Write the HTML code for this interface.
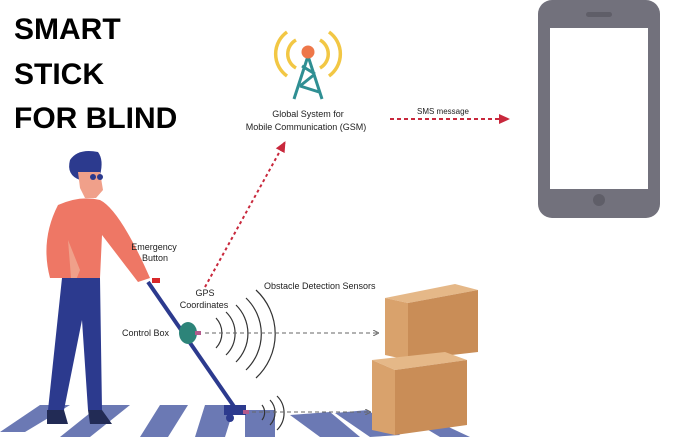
<!DOCTYPE html>
<html><head><style>
body{margin:0;width:685px;height:440px;overflow:hidden;background:#fff;font-family:"Liberation Sans",sans-serif}
.t{position:absolute;left:14px;font-weight:bold;font-size:30px;color:#000}
</style></head><body>
<div class="t" style="top:13px">SMART</div>
<div class="t" style="top:58px">STICK</div>
<div class="t" style="top:102px">FOR BLIND</div>
<svg width="685" height="440" style="position:absolute;left:0;top:0" font-family="Liberation Sans, sans-serif">
<defs><marker id="a" markerUnits="userSpaceOnUse" markerWidth="12" markerHeight="12" refX="10" refY="6" orient="auto"><path d="M0,1 L11,6 L0,11 z" fill="#c8283c"/></marker>
<marker id="g" markerUnits="userSpaceOnUse" markerWidth="6" markerHeight="6" refX="5" refY="3" orient="auto"><path d="M0,0 L6,3 L0,6" fill="none" stroke="#666"/></marker></defs>
<g fill="#6b79b4">
<polygon points="0,432 40,405 70,405 25,432"/><polygon points="60,437 100,405 130,405 90,437"/>
<polygon points="140,437 160,405 188,405 168,437"/><polygon points="195,437 205,405 235,405 225,437"/>
<polygon points="245,437 245,410 275,410 275,437"/><polygon points="290,415 330,412 360,437 320,437"/>
<polygon points="335,413 368,410 400,435 370,437"/><polygon points="420,425 440,423 470,437 440,437"/>
</g>
<rect x="538" y="0" width="122" height="218" rx="14" fill="#72717c"/>
<rect x="550" y="28" width="98" height="161" fill="#fff"/>
<rect x="586" y="12" width="26" height="5" rx="2.5" fill="#5f5e68"/>
<circle cx="599" cy="200" r="6" fill="#5f5e68"/>
<g fill="none" stroke="#f2c744" stroke-width="3.5">
<path d="M296,40 A16,16 0 0 0 296,68"/><path d="M287,32 A27,27 0 0 0 287,76"/>
<path d="M320,40 A16,16 0 0 1 320,68"/><path d="M329,32 A27,27 0 0 1 329,76"/></g>
<g stroke="#2f8f93" stroke-width="3" fill="none"><path d="M308,56 L294,99 M308,56 L322,99 M302,66 L315,74 M315,74 L300,86 M300,86 L319,92"/></g>
<circle cx="308" cy="52" r="6.5" fill="#ee7749"/>
<text x="308" y="117" font-size="9" text-anchor="middle" fill="#222">Global System for</text>
<text x="306" y="130" font-size="9" text-anchor="middle" fill="#222">Mobile Communication (GSM)</text>
<text x="443" y="114" font-size="8" text-anchor="middle" fill="#222">SMS message</text>
<line x1="390" y1="119" x2="509" y2="119" stroke="#c8283c" stroke-width="2" stroke-dasharray="4,3" marker-end="url(#a)"/>
<line x1="205" y1="287" x2="285" y2="142" stroke="#c8283c" stroke-width="2" stroke-dasharray="3,3" marker-end="url(#a)"/>
<path d="M70,160 Q78,148 98,152 Q104,160 100,175 L80,180 Q66,175 70,160z" fill="#2c3a8e"/>
<path d="M78,172 L100,172 L103,190 L96,198 L85,198 L80,188z" fill="#f0a08a"/>
<circle cx="93" cy="177" r="3" fill="#2c3a8e"/><circle cx="100" cy="177" r="3" fill="#2c3a8e"/>
<path d="M58,205 Q80,195 100,200 Q120,210 150,278 L138,282 L102,235 L100,278 L50,278 Q40,240 58,205z" fill="#ee7765"/>
<path d="M68,240 L80,270 L72,290 Z" fill="#f0a08a"/>
<path d="M62,278 L100,278 L102,410 L88,410 L82,320 L64,410 L48,410 Z" fill="#2c3a8e"/>
<path d="M47,410 L64,410 L68,424 L47,424Z M88,410 L102,410 L112,424 L90,424Z" fill="#222b55"/>
<line x1="148" y1="282" x2="235" y2="408" stroke="#2c3a8e" stroke-width="4"/>
<rect x="152" y="278" width="8" height="5" fill="#d8282a"/>
<rect x="224" y="405" width="22" height="10" fill="#2c3a8e"/>
<circle cx="230" cy="418" r="4" fill="#2c3a8e"/>
<ellipse cx="188" cy="333" rx="9" ry="11" fill="#2d8479"/>
<rect x="195" y="331" width="6" height="4" fill="#b35a8c"/><rect x="243" y="410" width="6" height="4" fill="#b35a8c"/>
<g fill="none" stroke="#333" stroke-width="1.2">
<path d="M216,318 A22,22 0 0 1 216,348"/><path d="M226,312 A30,30 0 0 1 226,355"/><path d="M236,305 A40,40 0 0 1 236,362"/>
<path d="M246,298 A50,50 0 0 1 246,370"/><path d="M256,290 A60,60 0 0 1 256,378"/>
<path d="M262,405 A12,12 0 0 1 262,420"/><path d="M270,400 A18,18 0 0 1 270,425"/><path d="M277,396 A24,24 0 0 1 277,430"/>
</g>
<line x1="205" y1="333" x2="378" y2="333" stroke="#666" stroke-dasharray="4,3" marker-end="url(#g)"/>
<line x1="252" y1="412" x2="370" y2="412" stroke="#666" stroke-dasharray="4,3" marker-end="url(#g)"/>
<text x="154" y="250" font-size="9" text-anchor="middle" fill="#222">Emergency</text>
<text x="155" y="261" font-size="9" text-anchor="middle" fill="#222">Button</text>
<text x="205" y="296" font-size="9" text-anchor="middle" fill="#222">GPS</text>
<text x="204" y="308" font-size="9" text-anchor="middle" fill="#222">Coordinates</text>
<text x="122" y="336" font-size="9" fill="#222">Control Box</text>
<text x="264" y="289" font-size="9" fill="#222">Obstacle Detection Sensors</text>
<polygon points="385,298 455,284 478,290 408,303" fill="#e5b888"/>
<polygon points="385,298 408,303 408,360 385,355" fill="#d9a26c"/>
<polygon points="408,303 478,290 478,352 408,360" fill="#c98d57"/>
<polygon points="372,360 445,352 467,360 395,370" fill="#e5b888"/>
<polygon points="372,360 395,370 395,435 372,430" fill="#d9a26c"/>
<polygon points="395,370 467,360 467,425 395,435" fill="#c98d57"/>
</svg>
</body></html>
